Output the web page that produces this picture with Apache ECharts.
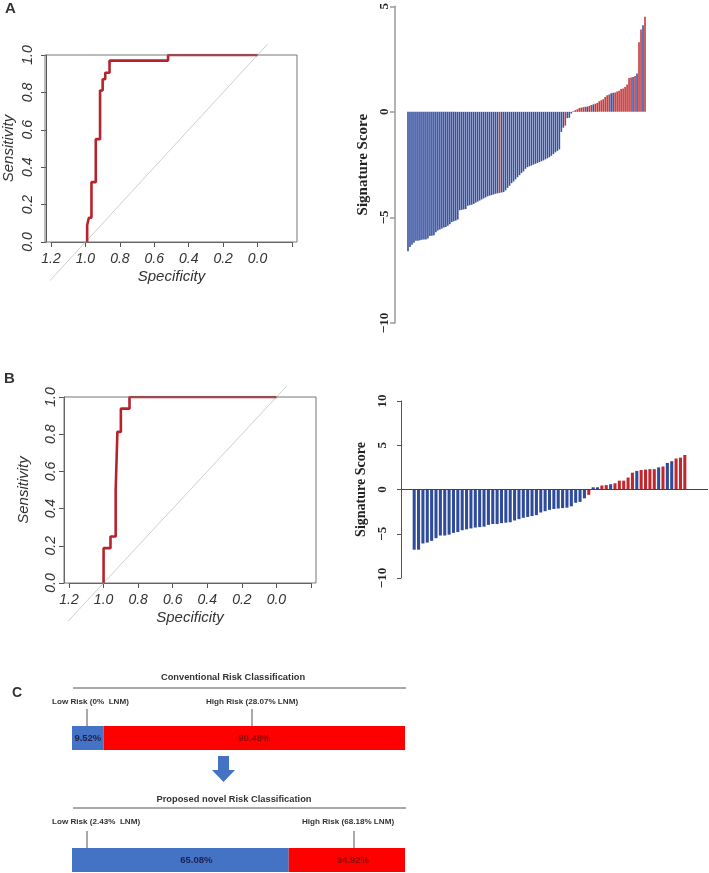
<!DOCTYPE html>
<html><head><meta charset="utf-8">
<script src="https://cdn.jsdelivr.net/npm/echarts@6/dist/echarts.min.js"></script>
<style>html,body{margin:0;padding:0;background:#fff}#c{width:709px;height:873px}</style>
</head><body><div id="c"></div>
<script>
// ---------------- DATA ----------------
const rocA_spec = [0.99,0.99,0.98,0.98,0.965,0.965,0.94,0.94,0.915,0.915,0.90,0.90,0.885,0.885,0.86,0.86,0.52,0.52,0.0];
const rocA_sens = [0,0.09,0.09,0.13,0.13,0.32,0.32,0.55,0.55,0.81,0.81,0.87,0.87,0.905,0.905,0.97,0.97,1.0,1.0];
const rocB_spec = [1.0,1.0,0.96,0.96,0.93,0.93,0.92,0.92,0.90,0.90,0.85,0.85,0.0];
const rocB_sens = [0,0.1875,0.1875,0.25,0.25,0.5,0.5,0.8125,0.8125,0.9375,0.9375,1.0,1.0];
const diagA_spec = [1.24,-0.06];
const diagA_sens = [-0.24,1.06];
const diagB_spec = [1.25,-0.06];
const diagB_sens = [-0.25,1.06];
const rocXTicks = [1.2,1.0,0.8,0.6,0.4,0.2,0.0];

const sigA = [
-6.60,-6.40,-6.30,-6.20,-6.10,-6.10,-6.08,-6.06,-6.05,-6.05,
-6.00,-5.88,-5.87,-5.85,-5.70,-5.62,-5.57,-5.52,-5.48,-5.45,
-5.40,-5.32,-5.22,-5.18,-5.15,-5.10,-4.66,-4.64,-4.62,-4.60,
-4.45,-4.42,-4.40,-4.36,-4.30,-4.25,-4.20,-4.15,-4.10,-4.05,
-4.00,-3.97,-3.94,-3.91,-3.88,-3.86,-3.84,-3.82,-3.80,-3.72,
-3.60,-3.50,-3.38,-3.30,-3.20,-3.10,-3.00,-2.90,-2.82,-2.70,
-2.62,-2.58,-2.54,-2.50,-2.46,-2.42,-2.38,-2.34,-2.30,-2.25,
-2.20,-2.15,-2.08,-2.00,-1.92,-1.85,-1.78,-0.95,-0.75,-0.65,
-0.30,-0.28,-0.08,0.03,0.08,0.12,0.18,0.20,0.22,0.24,
0.25,0.28,0.32,0.35,0.38,0.42,0.50,0.55,0.60,0.70,
0.78,0.82,0.88,0.90,0.92,0.96,1.00,1.08,1.10,1.18,
1.30,1.60,1.62,1.65,1.70,1.82,3.30,3.90,4.10,4.50];
const sigA_lnm = [
0,0,0,0,0,0,0,0,0,0,
0,0,0,0,0,0,0,0,0,0,
0,0,0,0,0,0,0,0,0,0,
0,0,0,0,0,0,0,0,0,0,
0,0,0,0,0,0,1,0,0,0,
0,0,0,0,0,0,0,0,0,0,
0,0,0,0,0,0,0,0,0,0,
0,0,0,0,0,0,0,0,0,1,
0,0,0,1,1,1,1,1,1,1,
0,1,1,0,1,1,1,1,1,1,
1,1,0,0,1,1,1,1,1,1,
1,1,1,0,1,0,1,1,0,1];

const sigB = [
-6.8,-6.8,-6.1,-6.0,-5.8,-5.5,-5.2,-5.2,-5.1,-4.9,
-4.8,-4.6,-4.5,-4.4,-4.3,-4.25,-4.2,-4.0,-3.9,-3.9,
-3.8,-3.75,-3.7,-3.5,-3.35,-3.2,-3.1,-3.0,-2.9,-2.6,
-2.45,-2.3,-2.2,-2.15,-2.1,-2.05,-1.9,-1.5,-1.4,-1.0,
-0.6,0.25,0.25,0.45,0.5,0.6,0.7,1.0,1.0,1.35,
1.9,2.1,2.2,2.25,2.3,2.3,2.5,2.6,3.0,3.2,
3.5,3.6,3.9];
const sigB_lnm = [
0,0,0,0,0,0,0,0,0,0,
0,0,0,0,0,0,0,0,0,0,
0,0,0,0,0,0,0,0,0,0,
0,0,0,0,0,0,0,0,0,0,
1,0,0,1,1,0,1,1,1,1,
1,0,1,1,1,1,0,1,0,0,
1,1,1];

const convPct = [9.52, 90.48];
const novelPct = [65.08, 34.92];
const convTitle = 'Conventional Risk Classification';
const novelTitle = 'Proposed novel Risk Classification';
const convLabels = ['Low Risk (0%  LNM)', 'High Risk (28.07% LNM)'];
const novelLabels = ['Low Risk (2.43%  LNM)', 'High Risk (68.18% LNM)'];

// ---------------- STYLE / LAYOUT ----------------
const SANS = '"Liberation Sans", Arial, sans-serif';
const SERIF = '"Liberation Serif", "Times New Roman", serif';
const ROC_RED = '#b8232b';
const A_BLUE = '#3650a3', A_RED = '#c83538';
const B_BLUE = '#2f4b9a', B_RED = '#c1272d';
const C_BLUE = '#4472c4', C_RED = '#ff0000';

const gA = {left:50, top:55, width:242, height:187};
const gB = {left:69, top:397, width:242, height:186};
const gSA = {left:407, top:4, width:239, height:319};
const gSB = {left:412, top:401, width:275, height:177};
const gC1 = {left:72, top:726, width:333, height:24};
const gC2 = {left:72, top:848, width:333, height:24};

function fmt1(v){ if (Math.abs(v) < 1e-9) return '0.0'; return v.toFixed(1); }
function rocXFmt(v){ return rocXTicks.some(t => Math.abs(t - v) < 1e-6) ? fmt1(v) : ''; }
function minusFmt(v){ return String(v).replace('-', '\u2212'); }

function rocX(gi){
  return {gridIndex:gi, type:'value', inverse:true, min:-0.2, max:1.2, interval:0.2,
    axisLine:{show:true, onZero:false, lineStyle:{color:'#555', width:1}},
    axisTick:{show:true, length:5, lineStyle:{color:'#555'}},
    splitLine:{show:false},
    axisLabel:{formatter:rocXFmt, margin:10, color:'#333', fontSize:14, fontStyle:'italic', fontFamily:SANS},
    name:'Specificity', nameLocation:'middle', nameGap:27,
    nameTextStyle:{color:'#333', fontSize:15, fontStyle:'italic', fontFamily:SANS}};
}
function rocY(gi, margin, gap){
  return {gridIndex:gi, type:'value', min:0, max:1, interval:0.2, offset:5,
    axisLine:{show:true, onZero:false, lineStyle:{color:'#555', width:1}},
    axisTick:{show:true, length:5, lineStyle:{color:'#555'}},
    splitLine:{show:false},
    axisLabel:{formatter:fmt1, rotate:90, margin:margin, color:'#333', fontSize:14, fontStyle:'italic', fontFamily:SANS},
    name:'Sensitivity', nameLocation:'middle', nameGap:gap,
    nameTextStyle:{color:'#333', fontSize:15, fontStyle:'italic', fontFamily:SANS}};
}
function zip(a,b){ return a.map((v,i)=>[v,b[i]]); }

const chart = echarts.init(document.getElementById('c'), null, {renderer:'canvas'});

const option = {
  backgroundColor:'#fff',
  animation:false,
  grid:[gA, gB, gSA, gSB, gC1, gC2].map(g=>Object.assign({containLabel:false}, g)),
  xAxis:[
    rocX(0),
    rocX(1),
    {gridIndex:2, type:'category', data:sigA.map((_,i)=>i), show:false},
    {gridIndex:3, type:'category', data:sigB.map((_,i)=>i), show:false},
    {gridIndex:4, type:'value', min:0, max:100, show:false},
    {gridIndex:5, type:'value', min:0, max:100, show:false}
  ],
  yAxis:[
    rocY(0, 11, 30),
    rocY(1, 6, 33),
    {gridIndex:2, type:'value', min:-10, max:5, interval:5, offset:12,
      axisLine:{show:true, onZero:false, lineStyle:{color:'#9a9a9a', width:1.5}},
      axisTick:{show:true, length:5, lineStyle:{color:'#9a9a9a', width:1.5}},
      splitLine:{show:false},
      axisLabel:{formatter:minusFmt, rotate:90, margin:4, color:'#222', fontSize:13, fontWeight:'bold', fontFamily:SERIF},
      name:'Signature Score', nameLocation:'middle', nameGap:24,
      nameTextStyle:{color:'#222', fontSize:15, fontWeight:'bold', fontFamily:SERIF}},
    {gridIndex:3, type:'value', min:-10, max:10, interval:5, offset:11,
      axisLine:{show:true, onZero:false, lineStyle:{color:'#555', width:1}},
      axisTick:{show:true, length:4, lineStyle:{color:'#555'}},
      splitLine:{show:false},
      axisLabel:{formatter:minusFmt, rotate:90, margin:12, color:'#222', fontSize:13, fontWeight:'bold', fontFamily:SERIF},
      name:'Signature Score', nameLocation:'middle', nameGap:33,
      nameTextStyle:{color:'#222', fontSize:14, fontWeight:'bold', fontFamily:SERIF}},
    {gridIndex:4, type:'category', data:['conv'], show:false},
    {gridIndex:5, type:'category', data:['novel'], show:false}
  ],
  series:[
    {type:'line', xAxisIndex:0, yAxisIndex:0, data:zip(diagA_spec, diagA_sens), symbol:'none', clip:false,
      lineStyle:{color:'#cfcfcf', width:1}, silent:true},
    {type:'line', xAxisIndex:0, yAxisIndex:0, data:zip(rocA_spec, rocA_sens), symbol:'none',
      lineStyle:{color:ROC_RED, width:2.6}},
    {type:'line', xAxisIndex:1, yAxisIndex:1, data:zip(diagB_spec, diagB_sens), symbol:'none', clip:false,
      lineStyle:{color:'#cfcfcf', width:1}, silent:true},
    {type:'line', xAxisIndex:1, yAxisIndex:1, data:zip(rocB_spec, rocB_sens), symbol:'none',
      lineStyle:{color:ROC_RED, width:2.6}},
    {type:'bar', xAxisIndex:2, yAxisIndex:2, barCategoryGap:'20%',
      data:sigA.map((v,i)=>({value:v, itemStyle:{color: sigA_lnm[i] ? A_RED : A_BLUE}}))},
    {type:'bar', xAxisIndex:3, yAxisIndex:3, barCategoryGap:'30%',
      data:sigB.map((v,i)=>({value:v, itemStyle:{color: sigB_lnm[i] ? B_RED : B_BLUE}}))},
    {type:'bar', xAxisIndex:4, yAxisIndex:4, stack:'c1', barWidth:'100%', data:[convPct[0]],
      itemStyle:{color:C_BLUE},
      label:{show:true, position:'inside', formatter:p=>p.value.toFixed(2)+'%', color:'#1b2350', fontSize:9.5, fontWeight:'bold', fontFamily:SANS}},
    {type:'bar', xAxisIndex:4, yAxisIndex:4, stack:'c1', barWidth:'100%', data:[convPct[1]],
      itemStyle:{color:C_RED},
      label:{show:true, position:'inside', formatter:p=>p.value.toFixed(2)+'%', color:'#8a0a0a', fontSize:9.5, fontWeight:'bold', fontFamily:SANS}},
    {type:'bar', xAxisIndex:5, yAxisIndex:5, stack:'c2', barWidth:'100%', data:[novelPct[0]],
      itemStyle:{color:C_BLUE},
      label:{show:true, position:'inside', offset:[16,0], formatter:p=>p.value.toFixed(2)+'%', color:'#1b2350', fontSize:9.5, fontWeight:'bold', fontFamily:SANS}},
    {type:'bar', xAxisIndex:5, yAxisIndex:5, stack:'c2', barWidth:'100%', data:[novelPct[1]],
      itemStyle:{color:C_RED},
      label:{show:true, position:'inside', offset:[6,0], formatter:p=>p.value.toFixed(2)+'%', color:'#8a0a0a', fontSize:9.5, fontWeight:'bold', fontFamily:SANS}}
  ]
};
chart.setOption(option);

// ---------------- DECORATIONS ----------------
const zeroY = chart.convertToPixel({yAxisIndex:3}, 0);
function boxRect(g){
  return {type:'rect', silent:true, z:5,
    shape:{x:g.left-5, y:g.top, width:g.width+10, height:g.height},
    style:{fill:'none', stroke:'#777', lineWidth:1}};
}
function txt(x, y, s, size, align, weight, font, color){
  return {type:'text', x:x, y:y, silent:true, z:10,
    style:{text:s, fontSize:size, fontWeight:weight||'bold', fontFamily:font||SANS, fill:color||'#333',
      align:align||'left', verticalAlign:'middle'}};
}
function ln(x1,y1,x2,y2,color){
  return {type:'line', silent:true, z:10, shape:{x1:x1,y1:y1,x2:x2,y2:y2}, style:{stroke:color||'#555', lineWidth:1}};
}
const gfx = [
  boxRect(gA), boxRect(gB),
  ln(401, zeroY, 708, zeroY, '#444'),
  txt(5, 9, 'A', 15, 'left'),
  txt(4, 379, 'B', 15, 'left'),
  txt(12, 693, 'C', 14, 'left'),
  txt(233, 677, convTitle, 9.3, 'center'),
  ln(73, 688, 406, 688),
  txt(52, 702, convLabels[0], 8.1, 'left'),
  txt(252, 702, convLabels[1], 8.1, 'center'),
  ln(87, 709, 87, 726), ln(252, 709, 252, 726),
  {type:'polygon', silent:true, z:10,
    shape:{points:[[218,756],[229,756],[229,770],[235,770],[223.5,782],[212,770],[218,770]]},
    style:{fill:C_BLUE}},
  txt(234, 799, novelTitle, 9.3, 'center'),
  ln(73, 808, 406, 808),
  txt(52, 822, novelLabels[0], 8.1, 'left'),
  txt(348, 822, novelLabels[1], 8.1, 'center'),
  ln(87, 831, 87, 848), ln(354, 831, 354, 848)
];
chart.setOption({graphic:gfx});
</script></body></html>
